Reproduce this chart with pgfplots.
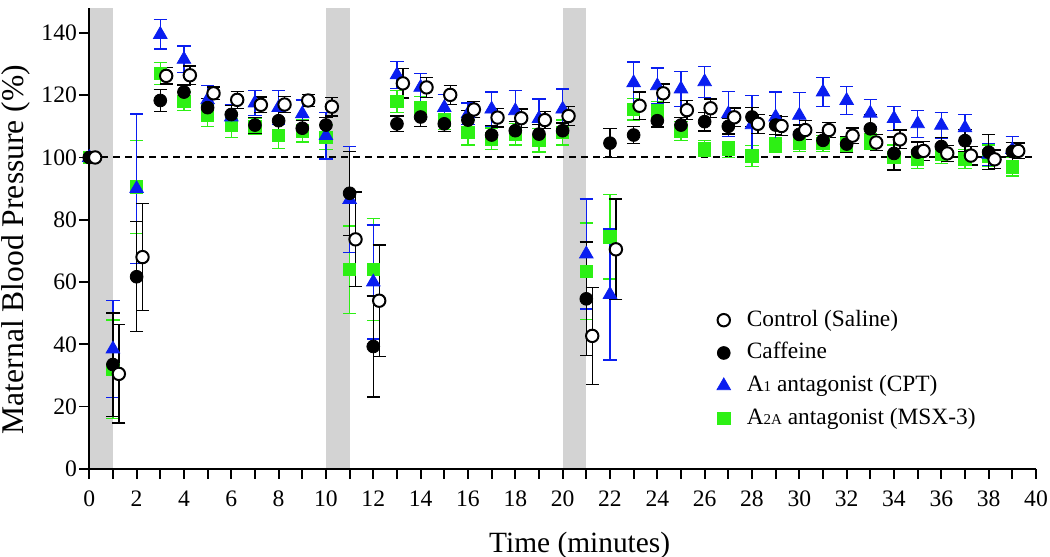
\documentclass[border=0pt]{standalone}
\usepackage{fontspec}
\setmainfont{Liberation Serif}
\usepackage{pgfplots}
\usepackage{pgfplotstable}
\pgfplotsset{compat=1.18}
\definecolor{mygreen}{RGB}{45,240,20}
\definecolor{myblue}{RGB}{10,30,240}
\definecolor{shade}{RGB}{211,211,211}

\pgfplotstableread{
t v e
0 100 0
1 32 15.8
2 90.5 15
3 127 3.6
4 118 3
5 113.5 3.5
6 110.5 4
7 110 2.7
8 107 4.2
9 108.5 3.5
10 106.5 4
11 64 14
12 64 16.3
13 118 3.5
14 116 3.5
15 112 3
16 108 4
17 106 3.5
18 107.5 3.5
19 105.5 3.7
20 108 4
21 63.5 15.5
22 74.5 13.5
23 115.5 3.5
24 115 3
25 108.5 3
26 103 2.5
27 102.5 2.5
28 100.5 3.3
29 104 2.5
30 104.5 2.5
31 104.5 2.5
32 104 2.5
33 105 2.5
34 100 4
35 99.5 3
36 101 3
37 99.5 3
38 100.5 3.5
39 97 3
}\tgreen

\pgfplotstableread{
t v e
0 100 0
1 38.5 15.5
2 90 24
3 139.5 4.7
4 131.5 4.3
5 118.5 4.5
6 113 4
7 117.5 4
8 116 5.5
9 114 4.5
10 107 7.5
11 86.5 17
12 60 18.3
13 126.5 4.3
14 122.5 4.5
15 116 4.3
16 114 3.5
17 115.5 5.5
18 115 6.5
19 112.5 6.3
20 115.5 6.5
21 69 17.7
22 56 21
23 124 6.7
24 123 5.7
25 122 5.7
26 124.3 5
27 114 7.2
28 110.5 9.5
29 113 8
30 113.5 7.3
31 121 4.7
32 118.3 4.4
33 114.2 4.4
34 112.5 3.9
35 110.8 4.3
36 110.3 4.2
37 109.5 4.3
38 101 3.5
39 102.5 4.2
}\tblue

\pgfplotstableread{
t v e
0 100 0
1 33.5 16.6
2 61.7 17.7
3 118.3 3.5
4 121 2.3
5 116 3
6 113.8 3
7 110.4 2.5
8 111.8 3
9 109.4 2.5
10 110.4 2.5
11 88.5 13.5
12 39.3 16.2
13 110.8 2.5
14 113 3
15 110.8 2.5
16 112 3
17 107.2 3
18 108.6 3
19 107.5 3
20 108.6 2.5
21 54.6 18.3
22 104.6 4.6
23 107.2 2.8
24 111.8 2
25 110.4 2.5
26 111.5 3
27 110 2.5
28 113 3
29 110.4 3
30 107.4 3
31 105.5 2.5
32 104.3 2.5
33 109.2 4.5
34 101.3 5.3
35 101.7 3.3
36 103.5 3
37 105.4 3.5
38 101.7 5.6
39 101.9 3
}\tcaf

\pgfplotstableread{
t v e
0.25 100 0
1.25 30.5 15.8
2.25 68 17.2
3.25 126.2 2.6
4.25 126.4 3
5.25 120.6 2
6.25 118.5 2.7
7.25 116.9 2.5
8.25 117 2.5
9.25 118.3 2
10.25 116.3 3
11.25 73.7 15.2
12.25 54 17.9
13.25 123.8 4.7
14.25 122.5 3.2
15.25 120.1 3
16.25 115.4 2.5
17.25 112.8 3
18.25 112.6 3
19.25 112 2.8
20.25 113.3 3
21.25 42.7 15.5
22.25 70.5 16.2
23.25 116.6 4.4
24.25 120.6 3
25.25 115.2 3
26.25 115.8 3
27.25 112.9 3
28.25 110.8 3
29.25 110.1 3
30.25 108.8 3
31.25 108.8 2.5
32.25 107 2.5
33.25 104.8 2.5
34.25 105.8 3
35.25 102.1 3
36.25 101.3 2.5
37.25 100.6 3
38.25 99.4 3
39.25 102.1 2.5
}\tctrl

\pgfplotsset{
  myleg/.style={legend image code/.code={\path[draw=none, fill=none] (0pt,-3pt) rectangle (17pt,3pt); \path[##1, draw=none] plot coordinates {(7pt,0pt)};}},
  myerr/.style={error bars/.cd, y dir=both, y explicit,
    error bar style={line width=0.65pt, #1},
    error mark options={rotate=90, mark size=3.3pt, line width=0.65pt, #1}},
}

\begin{document}
\begin{tikzpicture}
\begin{axis}[
  scale only axis, width=473.5pt, height=230.5pt,
  xmin=0, xmax=40, ymin=0, ymax=148,
  axis x line*=bottom, axis y line*=left,
  axis line style={line width=1pt, black},
  xtick={0,2,...,40}, minor xtick={1,3,...,39},
  ytick={0,20,...,140},
  tick align=outside, major tick length=5pt, minor tick length=5pt,
  tick style={black, line width=0.9pt},
  /pgf/number format/assume math mode=true,
  ticklabel style={font=\fontsize{11.8pt}{12pt}\selectfont},
  xticklabel style={yshift=-2.5pt},
  yticklabel style={inner sep=1pt},
  xlabel={Time (minutes)}, ylabel={Maternal Blood Pressure (\%)},
  every axis x label/.style={at={(axis description cs:0.518,-0.1816)}, anchor=base, font=\fontsize{14.7pt}{16pt}\selectfont},
  every axis y label/.style={at={(axis description cs:-0.078,0.476)}, anchor=center, rotate=90, font=\fontsize{15.8pt}{18pt}\selectfont},
  axis on top,
  clip=false,
  legend cell align=left,
  legend style={draw=none, fill=none, at={(axis description cs:0.655,0.356)}, anchor=north west,
    font=\fontsize{11.7pt}{13pt}\selectfont, inner sep=0pt, row sep=1.4pt,
    nodes={inner sep=1.5pt, text height=9pt, text depth=3pt}},
]
\addplot[fill=shade, draw=none, forget plot] coordinates {(0,0) (0,148) (1,148) (1,0)} -- cycle;
\addplot[fill=shade, draw=none, forget plot] coordinates {(10,0) (10,148) (11,148) (11,0)} -- cycle;
\addplot[fill=shade, draw=none, forget plot] coordinates {(20,0) (20,148) (21,148) (21,0)} -- cycle;
\addplot[black, line width=1pt, dash pattern=on 3.5pt off 2.5pt, forget plot] coordinates {(0,100) (40,100)};

\addplot[only marks, forget plot, mark=square*, mark size=3.1pt, color=mygreen, mark options={draw=mygreen, fill=mygreen}, myerr=mygreen]
  table[x=t, y=v, y error=e] {\tgreen};
\addplot[only marks, forget plot, mark=triangle*, mark size=3.9pt, color=myblue, mark options={draw=myblue, fill=myblue}, myerr=myblue]
  table[x=t, y=v, y error=e] {\tblue};
\addplot[only marks, forget plot, mark=*, mark size=3.2pt, color=black, mark options={draw=black, fill=black}, myerr=black]
  table[x=t, y=v, y error=e] {\tcaf};
\addplot[only marks, forget plot, mark=*, mark size=3.1pt, color=black, mark options={draw=black, fill=white, line width=1pt}, myerr=black]
  table[x=t, y=v, y error=e] {\tctrl};

\addlegendimage{only marks, myleg, mark=*, mark size=3.1pt, black, mark options={draw=black, fill=white, line width=1pt}}
\addlegendentry{Control (Saline)}
\addlegendimage{only marks, myleg, mark=*, mark size=3.2pt, black, mark options={draw=black, fill=black}}
\addlegendentry{Caffeine}
\addlegendimage{only marks, myleg, mark=triangle*, mark size=3.9pt, myblue, mark options={draw=myblue, fill=myblue}}
\addlegendentry{A{\fontsize{7.5pt}{8pt}\selectfont 1} antagonist (CPT)}
\addlegendimage{only marks, myleg, mark=square*, mark size=3.1pt, mygreen, mark options={draw=mygreen, fill=mygreen}}
\addlegendentry{A{\fontsize{7.5pt}{8pt}\selectfont 2A} antagonist (MSX-3)}
\end{axis}
\pgfresetboundingbox
\path[use as bounding box] (-44.65pt,-44pt) rectangle (480.5pt,234.5pt);
\end{tikzpicture}
\end{document}
